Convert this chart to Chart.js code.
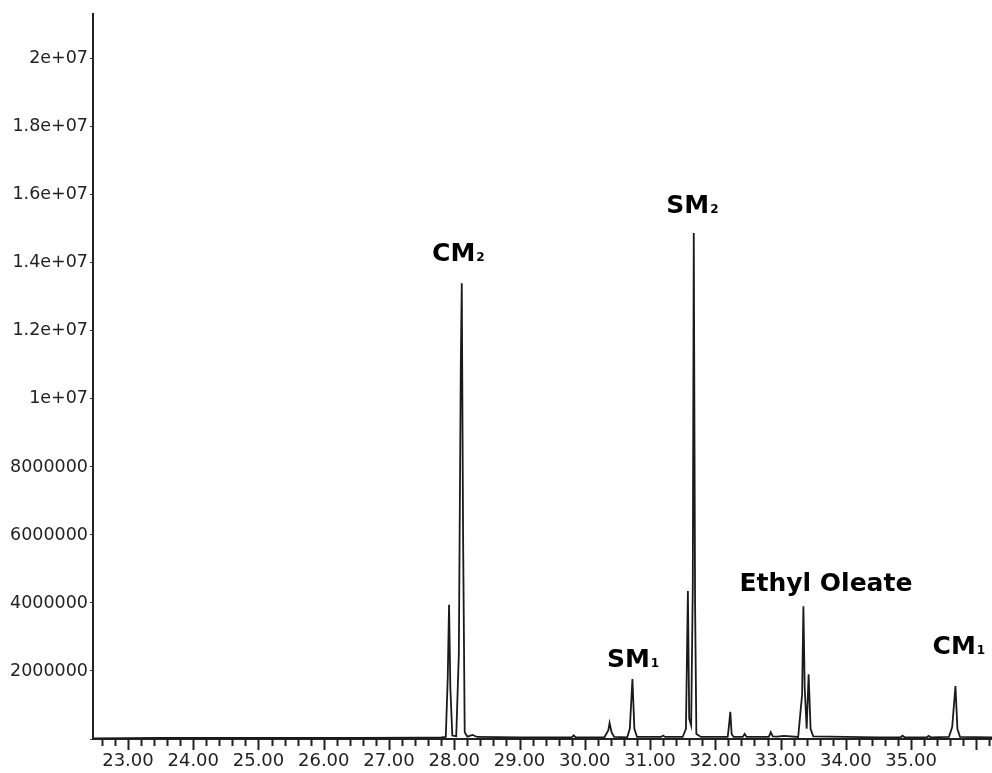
<!DOCTYPE html>
<html>
<head>
<meta charset="utf-8">
<script src="https://cdn.jsdelivr.net/npm/chart.js@4.4.1/dist/chart.umd.min.js"></script>
<style>
  html, body { margin: 0; padding: 0; background: #fff; }
  #wrap { width: 992px; height: 773px; }
</style>
</head>
<body>
<div id="wrap"><canvas id="c" width="992" height="773"></canvas></div>
<script>
// Retention time (min) and abundance
const retentionTimes = [
  22.46, 23.5, 25.0, 26.5, 27.5, 27.80, 27.87, 27.90, 27.92, 27.94, 27.97,
  28.03, 28.07, 28.10, 28.115, 28.135, 28.16, 28.20, 28.28, 28.35,
  29.0, 29.80, 29.83, 29.86, 30.30, 30.36, 30.38, 30.41, 30.45,
  30.65, 30.69, 30.73, 30.76, 30.80,
  31.17, 31.2, 31.23, 31.50, 31.55, 31.58, 31.60, 31.63, 31.655, 31.67, 31.69, 31.71, 31.78,
  32.0, 32.19, 32.21, 32.23, 32.25, 32.28,
  32.42, 32.45, 32.48, 32.82, 32.85, 32.88, 32.95, 33.05,
  33.27, 33.31, 33.33, 33.35, 33.37, 33.40, 33.43, 33.46, 33.50,
  34.0, 34.5, 34.84, 34.87, 34.9, 35.24, 35.27, 35.3,
  35.58, 35.63, 35.68, 35.71, 35.75, 36.24
];
const abundances = [
  20000, 30000, 30000, 30000, 40000, 50000, 60000, 1800000, 3950000, 1500000, 100000,
  80000, 2500000, 11000000, 13400000, 6000000, 200000, 70000, 120000, 60000,
  50000, 50000, 110000, 50000, 50000, 250000, 470000, 200000, 60000,
  50000, 300000, 1760000, 300000, 60000,
  60000, 100000, 60000, 60000, 300000, 4350000, 600000, 400000, 4500000, 14880000, 4000000, 150000, 60000,
  60000, 60000, 400000, 800000, 150000, 60000,
  60000, 150000, 60000, 60000, 200000, 80000, 70000, 90000,
  60000, 900000, 1300000, 3900000, 1500000, 300000, 1900000, 300000, 80000,
  60000, 50000, 50000, 100000, 50000, 50000, 90000, 50000,
  60000, 350000, 1560000, 300000, 60000, 50000
];

// Axis tick labels
const xTickValues = [23, 24, 25, 26, 27, 28, 29, 30, 31, 32, 33, 34, 35];
const xTickLabels = ['23.00','24.00','25.00','26.00','27.00','28.00','29.00','30.00','31.00','32.00','33.00','34.00','35.00'];
const yTickValues = [0, 2000000, 4000000, 6000000, 8000000, 10000000, 12000000, 14000000, 16000000, 18000000, 20000000];
const yTickLabels = ['', '2000000','4000000','6000000','8000000','1e+07','1.2e+07','1.4e+07','1.6e+07','1.8e+07','2e+07'];

// Peak annotations (text, subscript, anchor time, anchor abundance)
const peakNames = ['CM', 'SM', 'SM', 'Ethyl Oleate', 'CM'];
const peakSubs  = ['2', '2', '1', '', '1'];
const peakLabelTimes = [27.66, 31.25, 30.34, 32.37, 35.33];
const peakLabelLevels = [14060000, 15470000, 2120000, 4350000, 2500000];

const points = retentionTimes.map((t, i) => ({ x: t, y: abundances[i] }));

const tickPlugin = {
  id: 'axisTicks',
  afterDraw(chart) {
    const ctx = chart.ctx;
    const xs = chart.scales.x;
    const y0 = chart.chartArea.bottom;
    ctx.save();
    ctx.strokeStyle = '#222';
    ctx.lineWidth = 2;
    xs.ticks.forEach(tk => {
      const px = Math.round(xs.getPixelForValue(tk.value)) + 0.5;
      const major = Math.abs(tk.value - Math.round(tk.value)) < 1e-6;
      ctx.beginPath();
      ctx.moveTo(px, y0);
      ctx.lineTo(px, y0 + (major ? 11 : 7));
      ctx.stroke();
    });
    ctx.restore();
  }
};

const labelPlugin = {
  id: 'peakLabels',
  afterDatasetsDraw(chart) {
    const ctx = chart.ctx;
    const xs = chart.scales.x, ys = chart.scales.y;
    ctx.save();
    ctx.fillStyle = '#000';
    ctx.textBaseline = 'alphabetic';
    ctx.textAlign = 'left';
    peakNames.forEach((name, i) => {
      const px = xs.getPixelForValue(peakLabelTimes[i]);
      const py = ys.getPixelForValue(peakLabelLevels[i]);
      ctx.font = 'bold 25px "DejaVu Sans"';
      ctx.fillText(name, px, py);
      const w = ctx.measureText(name).width;
      if (peakSubs[i]) {
        ctx.font = 'bold 12px "DejaVu Sans"';
        ctx.fillText(peakSubs[i], px + w + 1, py);
      }
    });
    ctx.restore();
  }
};

new Chart(document.getElementById('c'), {
  type: 'line',
  data: {
    datasets: [{
      data: points,
      borderColor: '#1a1a1a',
      borderWidth: 1.8,
      pointRadius: 0,
      tension: 0,
      fill: false
    }]
  },
  options: {
    responsive: false,
    animation: false,
    devicePixelRatio: 1,
    layout: { padding: { top: 14, left: 0, right: 0, bottom: 0 } },
    plugins: { legend: { display: false }, tooltip: { enabled: false } },
    scales: {
      x: {
        type: 'linear',
        min: 22.464,
        max: 36.24,
        afterFit(s) { s.height = 34; },
        border: { display: true, color: '#222', width: 2 },
        grid: { display: true, drawOnChartArea: false, drawTicks: true, tickLength: 11, tickColor: 'rgba(0,0,0,0)' },
        ticks: {
          stepSize: 0.2,
          includeBounds: false,
          autoSkip: false,
          maxRotation: 0,
          minRotation: 0,
          padding: 1,
          color: '#222',
          font: { family: 'DejaVu Sans', size: 18 },
          callback(value) {
            const idx = xTickValues.findIndex(v => Math.abs(v - value) < 1e-6);
            return idx >= 0 ? xTickLabels[idx] : '';
          }
        }
      },
      y: {
        type: 'linear',
        min: 0,
        max: 21320000,
        afterFit(s) { s.width = 93; },
        afterBuildTicks(s) { s.ticks = yTickValues.map(v => ({ value: v })); },
        border: { display: true, color: '#222', width: 2 },
        grid: { display: true, drawOnChartArea: false, drawTicks: true, tickLength: 3, tickColor: '#333' },
        ticks: {
          autoSkip: false,
          padding: 2,
          color: '#222',
          font: { family: 'DejaVu Sans', size: 17.5 },
          callback(value) {
            const idx = yTickValues.findIndex(v => Math.abs(v - value) < 1);
            return idx >= 0 ? yTickLabels[idx] : '';
          }
        }
      }
    }
  },
  plugins: [tickPlugin, labelPlugin]
});
</script>
</body>
</html>
